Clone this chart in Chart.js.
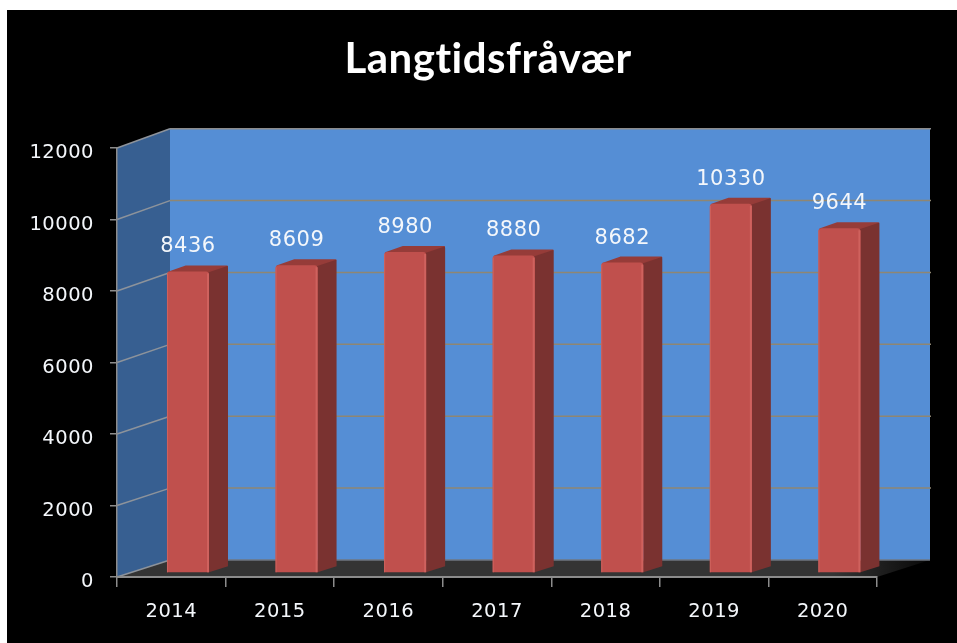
<!DOCTYPE html>
<html>
<head>
<meta charset="utf-8">
<style>
html,body{margin:0;padding:0;background:#fff;overflow:hidden}
#wrap{position:absolute;left:7px;top:10px;width:950px;height:633px;background:#000}
canvas{display:block}
</style>
<script src="https://cdn.jsdelivr.net/npm/chart.js@4"></script>
</head>
<body>
<div id="wrap"><canvas id="c" width="950" height="633"></canvas></div>
<script>
const titleText = "Langtidsfråvær";
const categories = ["2014","2015","2016","2017","2018","2019","2020"];
const absenceValues = [8436,8609,8980,8880,8682,10330,9644];
const yMin = 0;
const yMax = 12000;
const yStep = 2000;

const tickFont = {family:"'DejaVu Sans'", size:19.5};
const labelFontSize = 21;
const colors = {
  wall:"#558ed5", side:"#375f91", floorA:"#343434", floorB:"#080808",
  edge:"#8c8c8c", grid:"#8f8672", sideGrid:"#8d939b", floorEdge:"#6f7680",
  front:"#c0504d", frontLight:"#cf625e", barSide:"#7a3230", barTop:"#963c39", text:"#f4f7fb"
};
// Perspective offsets between the front plane (axes) and the back wall
const wallDX = 53, wallDYBottom = 17, wallDYTop = 19.3;
// Bars sit a little behind the front plane
const barDX = 16.7, barDY = -4, barDepthX = 19, barDepthY = -6;
// Title is centred on the picture rather than on the plot
const titleShift = 92;

const scene3d = {
  id:"scene3d",
  afterLayout(chart){ chart.titleBlock.left += titleShift; },
  beforeDraw(chart){
    const {ctx, chartArea:a, scales:{y}} = chart;
    const backY = v => y.getPixelForValue(v) - (wallDYBottom + (wallDYTop-wallDYBottom)*(v-yMin)/(yMax-yMin));
    const bl = a.left + wallDX, br = a.right + wallDX;
    const y0 = y.getPixelForValue(yMin), yT = y.getPixelForValue(yMax);
    ctx.letterSpacing = "0.5px";
    ctx.save();
    // back wall
    ctx.fillStyle = colors.wall;
    ctx.fillRect(bl, backY(yMax), br-bl, backY(yMin)-backY(yMax));
    // side wall
    ctx.fillStyle = colors.side;
    ctx.beginPath();
    ctx.moveTo(a.left,yT);ctx.lineTo(bl,backY(yMax));ctx.lineTo(bl,backY(yMin));ctx.lineTo(a.left,y0);
    ctx.closePath();ctx.fill();
    // floor
    const g = ctx.createLinearGradient(a.left,0,br,0);
    g.addColorStop(0,colors.floorA);g.addColorStop(0.88,colors.floorA);g.addColorStop(1,colors.floorB);
    ctx.fillStyle = g;
    ctx.beginPath();
    ctx.moveTo(a.left,y0);ctx.lineTo(bl,backY(yMin));ctx.lineTo(br,backY(yMin));ctx.lineTo(a.right,y0);
    ctx.closePath();ctx.fill();
    ctx.lineWidth = 1.5;
    ctx.strokeStyle = colors.floorEdge;
    ctx.beginPath();ctx.moveTo(bl,backY(yMin));ctx.lineTo(br,backY(yMin));ctx.stroke();
    // grid lines
    y.ticks.forEach(t=>{
      const py = y.getPixelForValue(t.value), by = backY(t.value);
      ctx.strokeStyle = colors.sideGrid;
      ctx.beginPath();ctx.moveTo(a.left,py);ctx.lineTo(bl,by);ctx.stroke();
      if(t.value>yMin){
        ctx.strokeStyle = t.value===yMax ? colors.edge : colors.grid;
        ctx.beginPath();ctx.moveTo(bl,by);ctx.lineTo(br+1,by);ctx.stroke();
      }
    });
    ctx.restore();
  },
  beforeDatasetsDraw(chart){
    const {ctx} = chart;
    ctx.save();
    ctx.translate(barDX,barDY);
    ctx.lineJoin = "round";
    ctx.lineWidth = 2;
    chart.getDatasetMeta(0).data.forEach(b=>{
      const l=b.x-b.width/2, r=b.x+b.width/2;
      ctx.fillStyle = ctx.strokeStyle = colors.barTop;
      ctx.beginPath();
      ctx.moveTo(l+2,b.y+1);ctx.lineTo(l+barDepthX,b.y+barDepthY+1);ctx.lineTo(r+barDepthX-1,b.y+barDepthY+1);
      ctx.lineTo(r,b.y+1);
      ctx.closePath();ctx.fill();ctx.stroke();
      ctx.fillStyle = colors.barSide;
      ctx.beginPath();
      ctx.moveTo(r-1,b.y+1);ctx.lineTo(r+barDepthX-2,b.y+barDepthY+1);ctx.quadraticCurveTo(r+barDepthX,b.y+barDepthY,r+barDepthX,b.y+barDepthY+2);
      ctx.lineTo(r+barDepthX,b.base+barDepthY);ctx.lineTo(r,b.base);
      ctx.closePath();ctx.fill();
    });
  },
  afterDatasetsDraw(chart){
    const {ctx} = chart;
    chart.getDatasetMeta(0).data.forEach(b=>{
      const l=b.x-b.width/2, r=b.x+b.width/2;
      ctx.fillStyle = colors.frontLight;
      ctx.fillRect(r-2,b.y+2,2,b.base-b.y-2);
      ctx.fillRect(l,b.y+2,1,b.base-b.y-2);
    });
    ctx.restore();
    ctx.save();
    ctx.fillStyle = colors.text;
    ctx.font = `${labelFontSize}px ${tickFont.family}`;
    ctx.textAlign = "center";
    ctx.textBaseline = "middle";
    chart.getDatasetMeta(0).data.forEach((b,i)=>{
      ctx.fillText(String(absenceValues[i]), b.x+barDX, b.y+barDY-24.5);
    });
    ctx.restore();
  }
};

new Chart(document.getElementById("c"),{
  type:"bar",
  data:{labels:categories,datasets:[{
    data:absenceValues,
    backgroundColor:colors.front,
    borderRadius:{topLeft:3,topRight:3,bottomLeft:0,bottomRight:0},
    borderSkipped:false,
    categoryPercentage:1,
    barPercentage:0.387,
    clip:false
  }]},
  plugins:[scene3d],
  options:{
    responsive:false,
    animation:false,
    devicePixelRatio:1,
    layout:{padding:{left:0,right:80,top:0,bottom:0}},
    plugins:{
      legend:{display:false},
      tooltip:{enabled:false},
      title:{display:true,text:titleText,color:"#ffffff",
        font:{family:"Lato",size:42,weight:"bold",lineHeight:1.2},
        padding:{top:24,bottom:63.6}}
    },
    scales:{
      x:{
        afterFit(s){s.height=66;},
        grid:{drawOnChartArea:false,color:colors.edge,tickLength:10,lineWidth:1.5},
        border:{color:colors.edge,width:2},
        ticks:{color:colors.text,font:tickFont,padding:13,maxRotation:0,autoSkip:false}
      },
      y:{
        min:yMin,max:yMax,
        afterFit(s){s.width=110;},
        grid:{drawOnChartArea:false,color:colors.edge,tickLength:7,lineWidth:1.5},
        border:{color:colors.edge,width:1.5},
        ticks:{stepSize:yStep,color:colors.text,font:tickFont,padding:16,labelOffset:5,
          callback:v=>String(v)}
      }
    }
  }
});
</script>
</body>
</html>
